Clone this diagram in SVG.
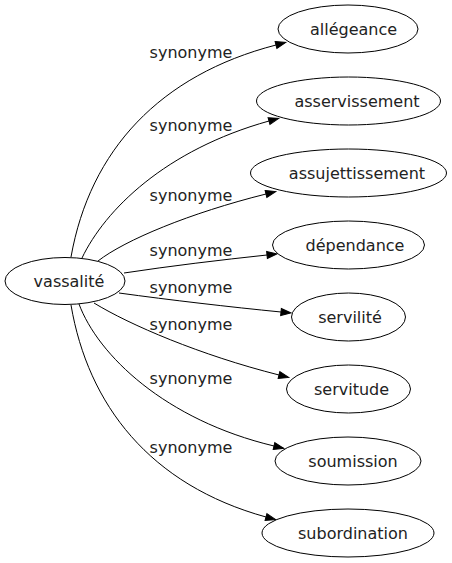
<svg xmlns="http://www.w3.org/2000/svg" width="452" height="563" viewBox="0 0 452 563">
<style>
.node ellipse{fill:none;stroke:#000;stroke-width:1}
.node text{font-family:"DejaVu Sans",Verdana,sans-serif;font-size:16px;fill:#222;text-anchor:middle}
.edge{fill:none;stroke:#000;stroke-width:1;marker-end:url(#arr)}
.lbl{font-family:"DejaVu Sans",Verdana,sans-serif;font-size:16px;fill:#222;text-anchor:middle}
</style>
<defs>
<marker id="arr" markerUnits="userSpaceOnUse" markerWidth="12" markerHeight="10" refX="0" refY="3.5" orient="auto" overflow="visible">
<path d="M0,0 L10,3.5 L0,7 z" fill="#000" stroke="#000" stroke-width="1"/>
</marker>
</defs>
<rect width="452" height="563" fill="#fff"/>
<g id="connectors">
<path class="edge" d="M71,257 C90,150 160,75 276,45"/>
<path class="edge" d="M82,258 C105,210 165,150 269,121"/>
<path class="edge" d="M98,261 C125,240 190,213 266,194"/>
<path class="edge" d="M124,273 C170,266 220,260 267,255"/>
<path class="edge" d="M119,293 C170,300 230,307 281,312"/>
<path class="edge" d="M94,303 C130,325 200,355 279,375"/>
<path class="edge" d="M79,304 C98,355 165,420 274,446"/>
<path class="edge" d="M71,305 C88,405 150,485 266,517"/>
<text class="lbl" x="191" y="57.5">synonyme</text>
<text class="lbl" x="191" y="131">synonyme</text>
<text class="lbl" x="191" y="201">synonyme</text>
<text class="lbl" x="191" y="255.5">synonyme</text>
<text class="lbl" x="191" y="292.5">synonyme</text>
<text class="lbl" x="191" y="330">synonyme</text>
<text class="lbl" x="191" y="384">synonyme</text>
<text class="lbl" x="191" y="452.5">synonyme</text>
</g>
<g id="vassalite" class="node"><ellipse cx="65" cy="281" rx="60" ry="23.5"/><text x="69" y="286.5">vassalité</text></g>
<g id="allegeance" class="node"><ellipse cx="348" cy="29" rx="70" ry="24"/><text x="353.5" y="34.5">allégeance</text></g>
<g id="asservissement" class="node"><ellipse cx="348.5" cy="101" rx="92" ry="24"/><text x="357" y="106.5">asservissement</text></g>
<g id="assujettissement" class="node"><ellipse cx="348.5" cy="173" rx="98" ry="24"/><text x="357" y="178.5">assujettissement</text></g>
<g id="dependance" class="node"><ellipse cx="348.5" cy="245" rx="76" ry="24"/><text x="355" y="250.5">dépendance</text></g>
<g id="servilite" class="node"><ellipse cx="348.5" cy="317" rx="57" ry="24"/><text x="350" y="322.5">servilité</text></g>
<g id="servitude" class="node"><ellipse cx="348.5" cy="389" rx="62" ry="24"/><text x="351.5" y="394.5">servitude</text></g>
<g id="soumission" class="node"><ellipse cx="348" cy="461" rx="73" ry="24"/><text x="353" y="466.5">soumission</text></g>
<g id="subordination" class="node"><ellipse cx="348" cy="533" rx="86" ry="24"/><text x="353" y="538.5">subordination</text></g>
</svg>
